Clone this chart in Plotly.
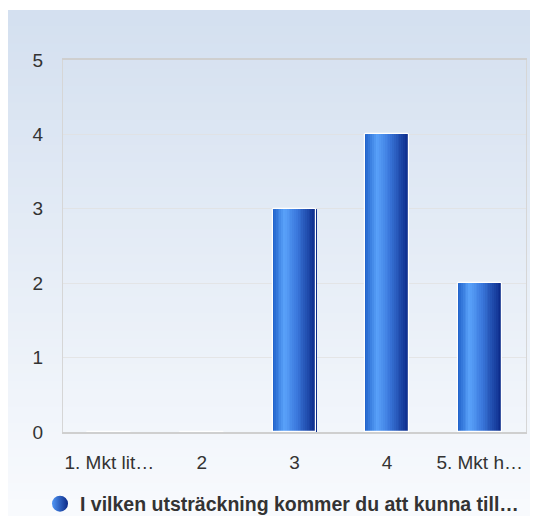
import plotly.graph_objects as go
import numpy as np

categories = ["1. Mkt lit…", "2", "3", "4", "5. Mkt h…"]
values = [0, 0, 3, 4, 2]
series_name = "I vilken utsträckning kommer du att kunna till…"
y_ticks = [0, 1, 2, 3, 4, 5]

# style
BAR_W = 0.475
N_SLICES = 24
stops = [(0.0, (30, 95, 200)), (0.28, (90, 162, 250)), (0.55, (60, 122, 222)), (1.0, (10, 40, 135))]

def grad_color(t):
    for (t0, c0), (t1, c1) in zip(stops[:-1], stops[1:]):
        if t0 <= t <= t1:
            f = (t - t0) / (t1 - t0) if t1 > t0 else 0
            c = [round(a + (b - a) * f) for a, b in zip(c0, c1)]
            return "rgb(%d,%d,%d)" % tuple(c)
    return "rgb(%d,%d,%d)" % stops[-1][1]

fig = go.Figure()
sw = BAR_W / N_SLICES
for i in range(N_SLICES):
    t = (i + 0.5) / N_SLICES
    fig.add_trace(go.Bar(
        x=categories, y=values, width=sw * 1.05, offset=-BAR_W / 2 + i * sw,
        marker=dict(color=grad_color(t), line=dict(width=0)),
        showlegend=False, hoverinfo="skip"))
# outline
fig.add_trace(go.Bar(
    x=categories, y=values, width=BAR_W, offset=-BAR_W / 2,
    marker=dict(color="rgba(0,0,0,0)", line=dict(color="white", width=1.2), cornerradius=2),
    showlegend=False, name=series_name))
# legend entry
fig.add_trace(go.Scatter(
    x=[None], y=[None], mode="markers", name=series_name,
    marker=dict(symbol="circle", size=19, color="rgb(80,150,245)",
                gradient=dict(type="horizontal", color="rgb(10,40,135)"),
                line=dict(width=0))))

# geometry (figure px; page body adds an 8px offset)
W, H = 530, 508
L, R, T, B = 55, 12, 52, 84
pw, ph = W - L - R, H - T - B
x0 = -L / pw
x1 = (W - L) / pw
ytop = (H - B - 2) / ph
ybot = -B / ph
top_c = np.array([212, 224, 240])
bot_c = np.array([249, 251, 254])
n = 60
shapes = []
for k in range(n):
    ya = ybot + (ytop - ybot) * k / n
    yb = ybot + (ytop - ybot) * (k + 1) / n
    f = (k + 0.5) / n
    c = bot_c + (top_c - bot_c) * f
    shapes.append(dict(type="rect", xref="paper", yref="paper", x0=x0, x1=x1, y0=ya,
                       y1=min(yb + 0.003, ytop),
                       fillcolor="rgb(%d,%d,%d)" % tuple(int(v) for v in c), line=dict(width=0), layer="below"))

leg_y = (H - B - 496) / ph
leg_x = (32 - L) / pw

fig.update_layout(
    width=W, height=H,
    margin=dict(l=L, r=R, t=T, b=B, autoexpand=False),
    paper_bgcolor="white", plot_bgcolor="rgba(0,0,0,0)",
    barmode="overlay", bargap=0,
    shapes=shapes,
    font=dict(family="Liberation Sans, Arial, sans-serif", size=19, color="#333333"),
    showlegend=True,
    legend=dict(orientation="h", x=leg_x, xanchor="left", y=leg_y, yanchor="middle",
                font=dict(size=19.5, color="#333333", family="Liberation Sans, Arial, sans-serif", weight="bold"),
                bgcolor="rgba(0,0,0,0)", itemclick=False),
    xaxis=dict(type="category", showgrid=False, showline=True, linecolor="#cfcfcf", linewidth=1.5,
               mirror=True, ticks="", ticklabelstandoff=12, zeroline=False, automargin=False,
               range=[-0.5, 4.5]),
    yaxis=dict(range=[0, 5], tickvals=y_ticks, showgrid=True, gridcolor="rgba(225,225,225,0.8)", gridwidth=1,
               showline=True, linecolor="#d6d6d6", linewidth=1.2, mirror=True, ticks="",
               ticklabelstandoff=15, zeroline=False, automargin=False),
)

fig.write_html("out.html")
